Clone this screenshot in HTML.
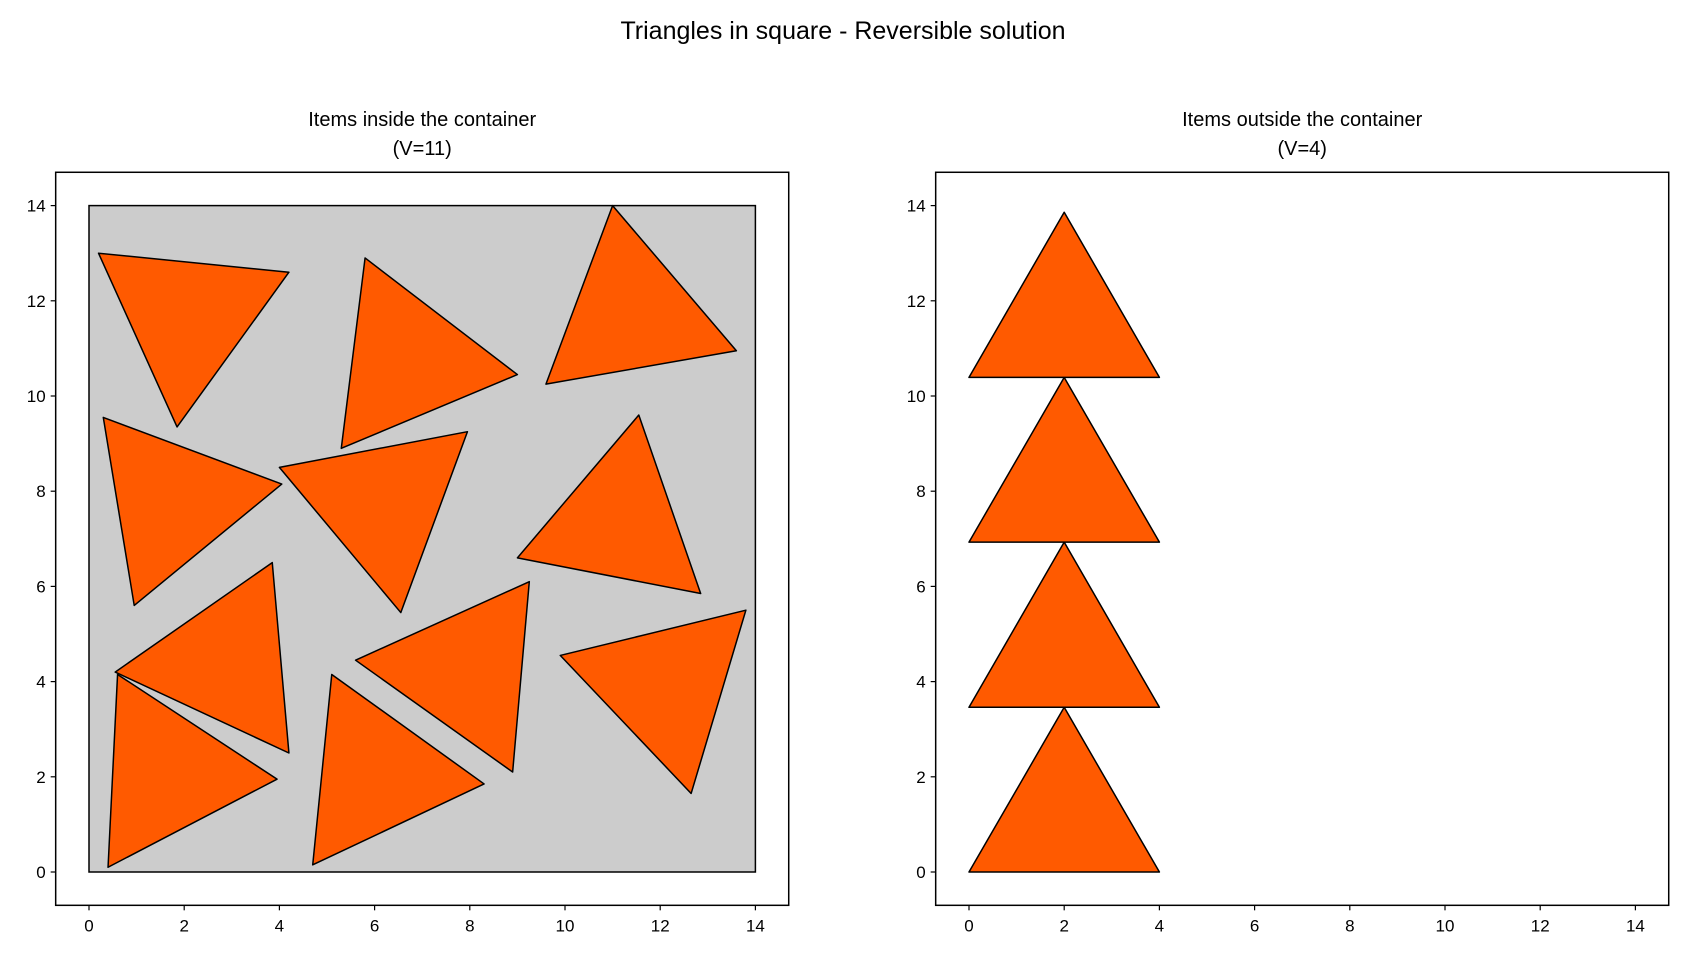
<!DOCTYPE html>
<html><head><meta charset="utf-8"><style>
body{margin:0;background:#fff}
svg text{font-family:"Liberation Sans",sans-serif;fill:#000}
</style></head><body>
<svg id="chart" width="1687" height="959" viewBox="0 0 1687 959" xmlns="http://www.w3.org/2000/svg">
<text x="843" y="39" font-size="25" text-anchor="middle">Triangles in square - Reversible solution</text>
<g id="left"></g>
<g id="right"></g>
</svg>
<script>
const ticks=[0,2,4,6,8,10,12,14];
const containerSide=14;
const insideTriangles=[
[[0.2,13.0],[4.2,12.6],[1.85,9.35]],
[[5.8,12.9],[9.0,10.45],[5.3,8.9]],
[[11.0,14.0],[13.6,10.95],[9.6,10.25]],
[[0.3,9.55],[4.05,8.15],[0.95,5.6]],
[[4.0,8.5],[7.95,9.25],[6.55,5.45]],
[[11.55,9.6],[12.85,5.85],[9.0,6.6]],
[[3.85,6.5],[4.2,2.5],[0.55,4.2]],
[[9.25,6.1],[8.9,2.1],[5.6,4.45]],
[[13.8,5.5],[12.65,1.65],[9.9,4.55]],
[[0.6,4.15],[3.95,1.95],[0.4,0.1]],
[[5.1,4.15],[8.3,1.85],[4.7,0.15]]
];
const outsideTriangles=[
[[0,0],[4,0],[2,3.46]],
[[0,3.46],[4,3.46],[2,6.93]],
[[0,6.93],[4,6.93],[2,10.39]],
[[0,10.39],[4,10.39],[2,13.86]]
];
const NS="http://www.w3.org/2000/svg";
function mk(tag,attrs,parent){const e=document.createElementNS(NS,tag);for(const k in attrs)e.setAttribute(k,attrs[k]);parent.appendChild(e);return e;}
function panel(g,x0,title1,title2,tris,showContainer){
  const s=47.6, y0=872;
  const X=v=>x0+v*s, Y=v=>y0-v*s;
  const fl=X(-0.7), fr=X(14.7), ft=Y(14.7), fb=Y(-0.7);
  const t1=mk('text',{x:(fl+fr)/2,y:126,'font-size':20,'text-anchor':'middle'},g);t1.textContent=title1;
  
  
  const t2=mk('text',{x:(fl+fr)/2,y:155,'font-size':20,'text-anchor':'middle'},g);t2.textContent=title2;
  
  
  if(showContainer){
    const r=mk('rect',{x:X(0),y:Y(containerSide),width:X(containerSide)-X(0),height:Y(0)-Y(containerSide),fill:'#cccccc',stroke:'#000','stroke-width':1.5},g);
    
    
  }
  tris.forEach((t,i)=>{
    const p=mk('polygon',{points:t.map(q=>X(q[0])+','+Y(q[1])).join(' '),fill:'#ff5a00',stroke:'#000','stroke-width':1.5,'stroke-linejoin':'round'},g);
    
    
  });
  const f=mk('rect',{x:fl,y:ft,width:fr-fl,height:fb-ft,fill:'none',stroke:'#000','stroke-width':1.5},g);
  
  
  ticks.forEach(v=>{
    mk('line',{x1:X(v),x2:X(v),y1:fb,y2:fb+5,stroke:'#000','stroke-width':1.2},g);
    const tx=mk('text',{x:X(v),y:fb+26,'font-size':17,'text-anchor':'middle'},g);tx.textContent=v;
    
    
    mk('line',{x1:fl-5,x2:fl,y1:Y(v),y2:Y(v),stroke:'#000','stroke-width':1.2},g);
    const ty=mk('text',{x:fl-10,y:Y(v)+6,'font-size':17,'text-anchor':'end'},g);ty.textContent=v;
    
    
  });
}
panel(document.getElementById('left'),89,'Items inside the container','(V=11)',insideTriangles,true);
panel(document.getElementById('right'),969,'Items outside the container','(V=4)',outsideTriangles,false);
</script>
</body></html>
